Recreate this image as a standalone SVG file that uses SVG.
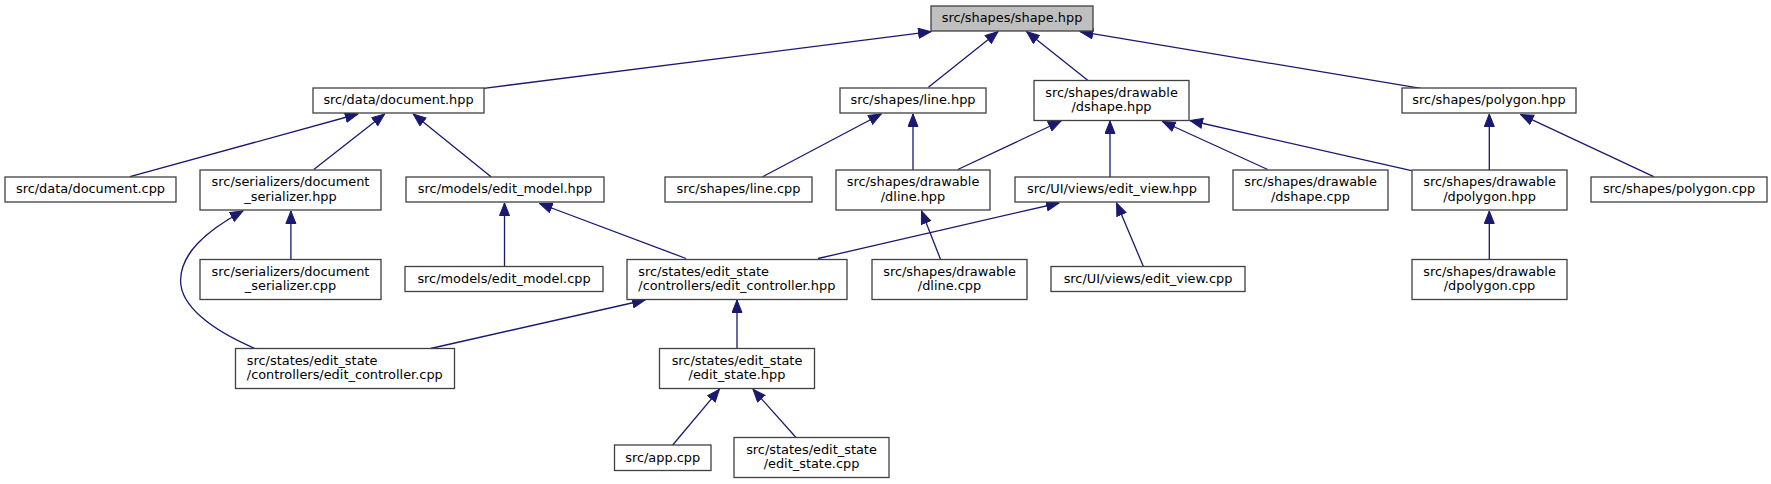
<svg xmlns="http://www.w3.org/2000/svg" width="1771" height="484" viewBox="0 0 1771 484">
<style>
.n rect{fill:#ffffff;stroke:#404040;stroke-width:1.3}
.n.root rect{fill:#bfbfbf}
.n text{font-family:"DejaVu Sans",sans-serif;font-size:12.9px;fill:#000;text-anchor:middle}
.n text.l{text-anchor:start}
.e path{fill:none;stroke:#191970;stroke-width:1.3;marker-end:url(#ah)}
</style>
<defs>
<marker id="ah" markerUnits="userSpaceOnUse" markerWidth="14" markerHeight="12" refX="13" refY="5.5" orient="auto">
<path d="M0.5,0.5 L13,5.5 L0.5,10.5 z" fill="#191970" stroke="#191970" stroke-width="1"/>
</marker>
</defs>
<rect width="1771" height="484" fill="#ffffff"/>
<g id="connectors" class="e">
<path d="M483.7,88.3 L931,31.7"/>
<path d="M928.4,87.3 L998,31.7"/>
<path d="M1088,80.5 L1026.7,31.7"/>
<path d="M1421,88.3 L1080.3,31.7"/>
<path d="M130,176.7 L357.8,114"/>
<path d="M313.8,169.5 L384.6,114"/>
<path d="M491,176.7 L413.3,114"/>
<path d="M290.9,259.5 L290.9,211"/>
<path d="M254.5,348.3 C212,330 180,306 180.6,280 C181,254 204,232 243,211"/>
<path d="M504.5,266.5 L504.5,203"/>
<path d="M686,258.5 L539.6,203.5"/>
<path d="M762.6,176.7 L881.3,114"/>
<path d="M913,170 L913,114"/>
<path d="M957.8,169.5 L1061,121"/>
<path d="M1110,177 L1110,121"/>
<path d="M1267.7,169.5 L1162.6,121.5"/>
<path d="M1411.5,170.7 L1190,120.5"/>
<path d="M1489.3,170 L1489.3,114"/>
<path d="M1653.7,176.7 L1520.7,114.5"/>
<path d="M1489.3,259.5 L1489.3,211"/>
<path d="M940.6,259.5 L921.5,211"/>
<path d="M1143.4,266.5 L1116.6,203"/>
<path d="M818,258.5 L1059,203"/>
<path d="M430.5,348.5 L645,300"/>
<path d="M737,348.5 L737,300"/>
<path d="M672.7,445 L719.4,389.3"/>
<path d="M796,437.5 L753,389.3"/>
</g>
<g id="shape_hpp" class="n root"><rect x="931" y="6" width="162" height="25"/><text x="1012" y="22.3">src/shapes/shape.hpp</text></g>
<g id="document_hpp" class="n"><rect x="313" y="88" width="171" height="25"/><text x="398.5" y="104.3">src/data/document.hpp</text></g>
<g id="line_hpp" class="n"><rect x="840" y="88" width="146" height="25"/><text x="913" y="104.3">src/shapes/line.hpp</text></g>
<g id="dshape_hpp" class="n"><rect x="1034" y="80.5" width="155" height="40"/><text x="1111.5" y="96.5">src/shapes/drawable</text><text x="1111.5" y="111.3">/dshape.hpp</text></g>
<g id="polygon_hpp" class="n"><rect x="1402" y="88" width="174" height="25"/><text x="1489" y="104.3">src/shapes/polygon.hpp</text></g>
<g id="document_cpp" class="n"><rect x="5" y="177" width="171" height="25"/><text x="90.5" y="193.3">src/data/document.cpp</text></g>
<g id="document_serializer_hpp" class="n"><rect x="200" y="170" width="181" height="40"/><text x="290.5" y="186">src/serializers/document</text><text x="290.5" y="200.8">_serializer.hpp</text></g>
<g id="edit_model_hpp" class="n"><rect x="406" y="177" width="198" height="25"/><text x="505" y="193.3">src/models/edit_model.hpp</text></g>
<g id="line_cpp" class="n"><rect x="665" y="177" width="147" height="25"/><text x="738.5" y="193.3">src/shapes/line.cpp</text></g>
<g id="dline_hpp" class="n"><rect x="836" y="170" width="154" height="40"/><text x="913" y="186">src/shapes/drawable</text><text x="913" y="200.8">/dline.hpp</text></g>
<g id="edit_view_hpp" class="n"><rect x="1015" y="177" width="194" height="25"/><text x="1112" y="193.3">src/UI/views/edit_view.hpp</text></g>
<g id="dshape_cpp" class="n"><rect x="1233" y="170" width="155" height="40"/><text x="1310.5" y="186">src/shapes/drawable</text><text x="1310.5" y="200.8">/dshape.cpp</text></g>
<g id="dpolygon_hpp" class="n"><rect x="1412" y="170" width="155" height="40"/><text x="1489.5" y="186">src/shapes/drawable</text><text x="1489.5" y="200.8">/dpolygon.hpp</text></g>
<g id="polygon_cpp" class="n"><rect x="1591" y="177" width="176" height="25"/><text x="1679" y="193.3">src/shapes/polygon.cpp</text></g>
<g id="document_serializer_cpp" class="n"><rect x="200" y="259.5" width="181" height="40"/><text x="290.5" y="275.5">src/serializers/document</text><text x="290.5" y="290.3">_serializer.cpp</text></g>
<g id="edit_model_cpp" class="n"><rect x="405" y="266.5" width="198" height="25"/><text x="504" y="282.8">src/models/edit_model.cpp</text></g>
<g id="edit_controller_hpp" class="n"><rect x="627" y="259.5" width="220" height="40"/><text class="l" x="638.3" y="275.5">src/states/edit_state</text><text class="l" x="638.3" y="290.3">/controllers/edit_controller.hpp</text></g>
<g id="dline_cpp" class="n"><rect x="872" y="259.5" width="155" height="40"/><text x="949.5" y="275.5">src/shapes/drawable</text><text x="949.5" y="290.3">/dline.cpp</text></g>
<g id="edit_view_cpp" class="n"><rect x="1051" y="266.5" width="194" height="25"/><text x="1148" y="282.8">src/UI/views/edit_view.cpp</text></g>
<g id="dpolygon_cpp" class="n"><rect x="1412" y="259.5" width="155" height="40"/><text x="1489.5" y="275.5">src/shapes/drawable</text><text x="1489.5" y="290.3">/dpolygon.cpp</text></g>
<g id="edit_controller_cpp" class="n"><rect x="235.5" y="348.5" width="219" height="40"/><text class="l" x="246.8" y="364.5">src/states/edit_state</text><text class="l" x="246.8" y="379.3">/controllers/edit_controller.cpp</text></g>
<g id="edit_state_hpp" class="n"><rect x="659.5" y="348.5" width="155" height="40"/><text x="737" y="364.5">src/states/edit_state</text><text x="737" y="379.3">/edit_state.hpp</text></g>
<g id="app_cpp" class="n"><rect x="614.5" y="445" width="96.5" height="25.5"/><text x="662.7" y="461.5">src/app.cpp</text></g>
<g id="edit_state_cpp" class="n"><rect x="734" y="437.5" width="155" height="40"/><text x="811.5" y="453.5">src/states/edit_state</text><text x="811.5" y="468.3">/edit_state.cpp</text></g>
</svg>
